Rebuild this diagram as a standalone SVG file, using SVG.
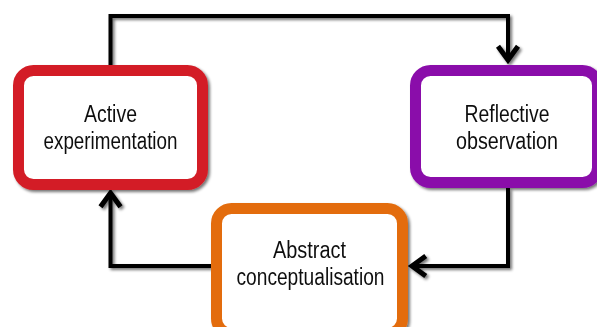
<svg xmlns="http://www.w3.org/2000/svg" width="597" height="327" viewBox="0 0 597 327">
  <defs>
    <filter id="shadow" x="-10%" y="-10%" width="120%" height="130%">
      <feGaussianBlur in="SourceAlpha" stdDeviation="1.6"/>
      <feOffset dx="1.5" dy="1.5" result="b"/>
      <feComponentTransfer><feFuncA type="linear" slope="0.55"/></feComponentTransfer>
      <feMerge><feMergeNode/><feMergeNode in="SourceGraphic"/></feMerge>
    </filter>
    <marker id="chevron" markerUnits="userSpaceOnUse" markerWidth="30" markerHeight="30" refX="0" refY="0" viewBox="-16 -12 20 24" orient="auto" overflow="visible">
      <path d="M-11,-8 L0,0 L-11,8" fill="none" stroke="#000" stroke-width="4" stroke-linejoin="miter"/>
    </marker>
  </defs>
  <style>
    .link { fill: none; stroke: #000; stroke-width: 4; stroke-linejoin: miter; marker-end: url(#chevron); }
    .box { fill: #fff; stroke-width: 11; }
    .label { font-family: "Liberation Sans", Arial, sans-serif; font-size: 23px; fill: #111; text-anchor: middle; }
  </style>
  <rect width="597" height="327" fill="#fff"/>

  <g id="connectors" filter="url(#shadow)">
    <path class="link" d="M110.5,65 V16 H508 V60"/>
    <path class="link" d="M508,188 V266 H412"/>
    <path class="link" d="M211,266 H110.5 V193"/>
  </g>

  <g id="active-experimentation" filter="url(#shadow)">
    <rect class="box" x="18.5" y="70.5" width="184" height="114" rx="15" stroke="#d31f26"/>
    <text class="label" x="110.5" y="121.5" textLength="53" lengthAdjust="spacingAndGlyphs">Active</text>
    <text class="label" x="110.5" y="148.5" textLength="134" lengthAdjust="spacingAndGlyphs">experimentation</text>
  </g>

  <g id="reflective-observation" filter="url(#shadow)">
    <rect class="box" x="415.5" y="70.5" width="182" height="112" rx="15" stroke="#8a10aa"/>
    <text class="label" x="507" y="121.5" textLength="85" lengthAdjust="spacingAndGlyphs">Reflective</text>
    <text class="label" x="507" y="148.5" textLength="102" lengthAdjust="spacingAndGlyphs">observation</text>
  </g>

  <g id="abstract-conceptualisation" filter="url(#shadow)">
    <rect class="box" x="216.5" y="208.5" width="186" height="125" rx="15" stroke="#e36c0e"/>
    <text class="label" x="309.5" y="258" textLength="73" lengthAdjust="spacingAndGlyphs">Abstract</text>
    <text class="label" x="310.5" y="285" textLength="148" lengthAdjust="spacingAndGlyphs">conceptualisation</text>
  </g>
</svg>
